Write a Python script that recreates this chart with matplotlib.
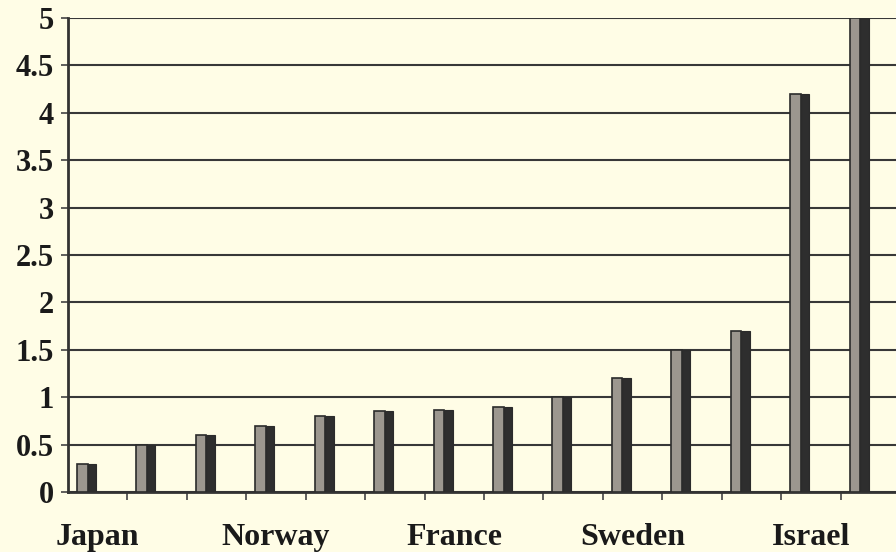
import matplotlib.pyplot as plt
import numpy as np

# values (14 countries, only every 3rd labelled)
values = [0.3, 0.5, 0.6, 0.7, 0.8, 0.85, 0.87, 0.9, 1.0, 1.2, 1.5, 1.7, 4.2, 5.0]
labels = ['Japan', '', '', 'Norway', '', '', 'France', '', '', 'Sweden', '', '', 'Israel', '']
yticks = [0, 0.5, 1, 1.5, 2, 2.5, 3, 3.5, 4, 4.5, 5]
ytick_labels = ['0', '0.5', '1', '1.5', '2', '2.5', '3', '3.5', '4', '4.5', '5']

bg = '#fffde6'
fig = plt.figure(figsize=(8.96, 5.52), dpi=100, facecolor=bg)
ax = fig.add_axes([0.0759, 0.1087, 0.9286, 0.8587])
ax.set_facecolor(bg)

x = np.arange(len(values))
# front face and dark side to mimic the 3D column look
ax.bar(x - 0.26, values, width=0.18, color='#9c978f', edgecolor='#2b2b2b',
       linewidth=1.2, zorder=3)
ax.bar(x - 0.10, values, width=0.14, color='#2e2e2e', edgecolor='#2b2b2b',
       linewidth=0.8, zorder=3)

ax.set_xlim(-0.5, len(values) - 0.5)
ax.set_ylim(0, 5)
ax.set_yticks(yticks)
ax.set_yticklabels(ytick_labels)
ax.yaxis.grid(True, color='#383838', linewidth=1.5, zorder=1)

ax.set_xticks(x)
ax.set_xticklabels(labels)
ax.set_xticks(np.arange(len(values)) + 0.5, minor=True)
ax.tick_params(axis='x', which='major', length=0, pad=22)
ax.tick_params(axis='x', which='minor', length=6, width=1.2, color='#444444', direction='out')
ax.tick_params(axis='y', length=5, width=1.2, color='#444444', pad=5)

for lab in ax.get_xticklabels():
    lab.set_fontfamily('Liberation Serif')
    lab.set_fontweight('bold')
    lab.set_fontsize(23)
    lab.set_color('#1a1a1a')
for lab in ax.get_yticklabels():
    lab.set_fontfamily('Liberation Serif')
    lab.set_fontweight('bold')
    lab.set_fontsize(22)
    lab.set_color('#1a1a1a')

for side in ['top', 'right']:
    ax.spines[side].set_visible(False)
ax.spines['left'].set_color('#333333')
ax.spines['left'].set_linewidth(2)
ax.spines['bottom'].set_color('#333333')
ax.spines['bottom'].set_linewidth(2)

fig.savefig('out.png', dpi=100, facecolor=bg)
